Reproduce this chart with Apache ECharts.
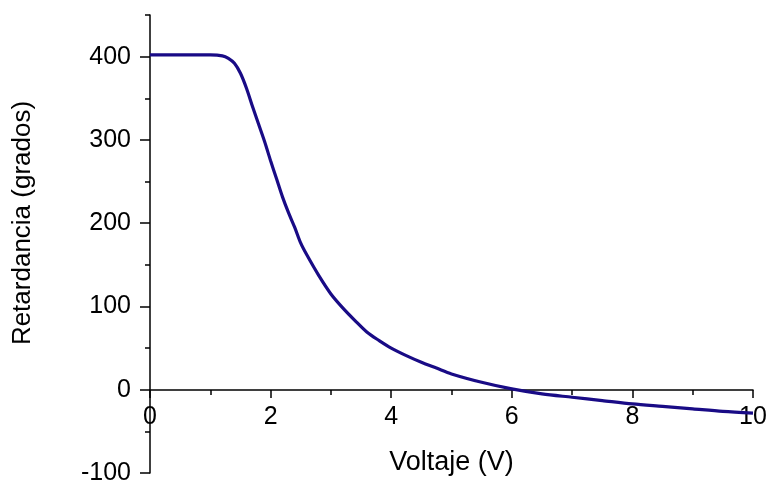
<!DOCTYPE html>
<html>
<head>
<meta charset="utf-8">
<script src="https://cdn.jsdelivr.net/npm/echarts@6/dist/echarts.min.js"></script>
<style>
  html, body { margin: 0; padding: 0; background: #fff; }
  #main { width: 769px; height: 481px; }
</style>
</head>
<body>
<div id="main"></div>
<script>
// voltage (V) and retardance (degrees)
var voltaje = [0, 0.5, 1.0, 1.2, 1.3, 1.4, 1.5, 1.6, 1.7, 1.8, 1.9, 2.0, 2.1, 2.2, 2.3, 2.4, 2.5, 2.6, 2.8, 3.0, 3.2, 3.4, 3.6, 3.8, 4.0, 4.25, 4.5, 4.75, 5.0, 5.5, 6.0, 6.5, 7.0, 7.5, 8.0, 8.5, 9.0, 9.5, 10];
var retardancia = [402, 402, 402, 401, 398, 392, 380, 362, 340, 319, 298, 275, 253, 231, 212, 195, 176, 162, 137, 115, 98, 83, 69, 59, 50, 41, 33, 26, 19, 9, 1, -5, -9, -13, -17, -20, -23, -26, -28];
var yMajor = [-100, 0, 100, 200, 300, 400];

var font = 'Liberation Sans, Arial, Helvetica, sans-serif';

var chart = echarts.init(document.getElementById('main'));

var pts = voltaje.map(function (v, i) { return [v, retardancia[i]]; });

chart.setOption({
  animation: false,
  grid: { left: 150, right: 16, top: 15, bottom: 8, containLabel: false, outerBoundsMode: 'none' },
  xAxis: {
    type: 'value',
    min: 0, max: 10, interval: 2,
    offset: -83,
    name: 'Voltaje (V)',
    nameLocation: 'middle',
    nameGap: 59,
    nameTextStyle: { color: '#000', fontSize: 27, fontFamily: font },
    axisLine: { onZero: false, lineStyle: { color: '#000', width: 1.5 } },
    axisTick: { show: true, inside: false, length: 8, lineStyle: { color: '#000', width: 1.5 } },
    minorTick: { show: true, splitNumber: 2, length: 5, lineStyle: { color: '#000', width: 1.5 } },
    axisLabel: { color: '#000', fontSize: 25, fontFamily: font, margin: 15 },
    splitLine: { show: false }
  },
  yAxis: [{
    type: 'value',
    min: -100, max: 450, interval: 50,
    axisLine: { show: true, onZero: false, lineStyle: { color: '#000', width: 1.5 } },
    axisTick: { show: true, length: 5, lineStyle: { color: '#000', width: 1.5 } },
    axisLabel: {
      color: '#000', fontSize: 25, fontFamily: font, margin: 19,
      formatter: function (v) { return yMajor.indexOf(v) >= 0 ? String(v) : ''; }
    },
    splitLine: { show: false }
  }, {
    type: 'value',
    position: 'left',
    min: -100, max: 450,
    axisLine: { show: false, onZero: false },
    axisTick: { show: true, length: 10, customValues: yMajor, lineStyle: { color: '#000', width: 1.5 } },
    axisLabel: { show: false },
    splitLine: { show: false }
  }],
  graphic: [{
    type: 'text',
    x: 23, y: 223,
    rotation: Math.PI / 2,
    style: {
      text: 'Retardancia (grados)',
      fill: '#000',
      font: '26px ' + font,
      align: 'center',
      verticalAlign: 'middle'
    }
  }],
  series: [{
    type: 'line',
    data: pts,
    smooth: 0.3,
    showSymbol: false,
    lineStyle: { color: '#190b86', width: 3.2 },
    z: 5
  }]
});
</script>
</body>
</html>
